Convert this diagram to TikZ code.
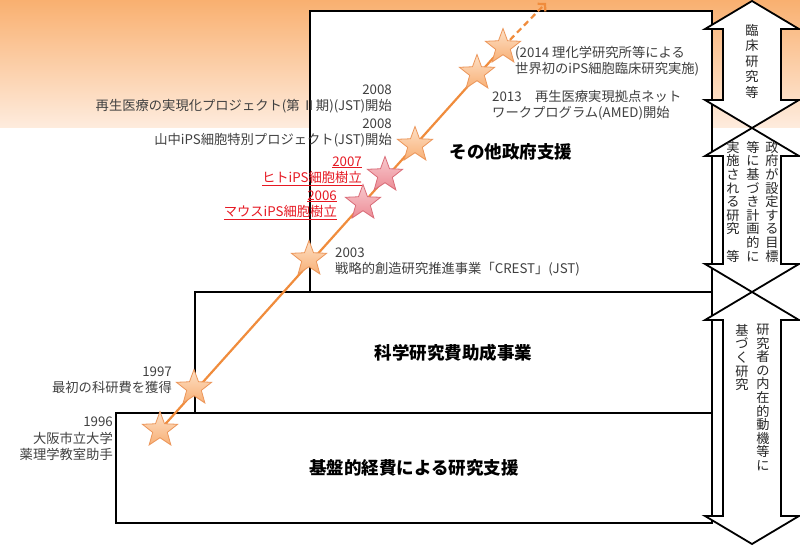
\documentclass[tikz,border=0pt]{standalone}
\usepackage{fontspec}
\setmainfont{Noto Sans CJK JP}
\usetikzlibrary{shapes.geometric, arrows.meta}

\definecolor{bgTop}{RGB}{249,176,112}
\definecolor{bgBottom}{RGB}{254,236,222}
\definecolor{lineOrange}{RGB}{240,140,60}
\definecolor{starTop}{RGB}{253,224,198}
\definecolor{starBottom}{RGB}{248,176,118}
\definecolor{starEdge}{RGB}{236,150,90}
\definecolor{pinkTop}{RGB}{248,202,206}
\definecolor{pinkBottom}{RGB}{236,140,150}
\definecolor{pinkEdge}{RGB}{218,108,120}
\definecolor{noteGray}{RGB}{64,64,64}
\definecolor{hotRed}{RGB}{230,25,35}

\begin{document}
\begin{tikzpicture}[x=1pt, y=-1pt,
    note/.style={inner sep=0pt, text=noteGray, font=\fontsize{13.3}{16.5}\selectfont},
    noteL/.style={note, align=left, anchor=west},
    noteR/.style={note, align=right, anchor=east},
    hot/.style={text=hotRed},
    panel/.style={draw, line width=1.8pt, fill=white, anchor=north west, inner sep=0pt,
        font=\bfseries\fontsize{17.5}{20}\selectfont},
    flow/.style={draw, line width=1.8pt, fill=white},
    vcol/.style={inner sep=0pt, anchor=north, align=center, text=black!85,
        font=\fontsize{13.2}{13.6}\selectfont},
    milestone/.style={star, star points=5, star point ratio=2.4, minimum size=37pt, inner sep=0pt,
        line width=0.8pt, draw=starEdge, top color=starTop, bottom color=starBottom},
    pinkstone/.style={milestone, draw=pinkEdge, top color=pinkTop, bottom color=pinkBottom}]

        \pgfmathsetmacro{\colX}{752}
        \pgfmathsetmacro{\headW}{47}
        \pgfmathsetmacro{\headH}{28}
        \pgfmathsetmacro{\shaftW}{29}

        \useasboundingbox (0,0) rectangle (800,548);
        \shade[top color=bgTop, bottom color=bgBottom] (0,0) rectangle (800,128);

        % funding blocks
        \node[panel, minimum width=402, minimum height=281] (boxGov) at (309,10) {その他政府支援};
        \node[panel, minimum width=517, minimum height=121] (boxKaken) at (194,291) {科学研究費助成事業};
        \node[panel, minimum width=596, minimum height=110] (boxBase) at (115,412) {基盤的経費による研究支援};

        % double arrows on the right
        \foreach \yTop/\yBot in {1/128, 128/292, 292/544} {
            \draw[flow] (\colX, \yTop) -- ++(\headW, \headH) -- ++(\shaftW-\headW, 0)
                -- (\colX+\shaftW, \yBot-\headH) -- ++(\headW-\shaftW, 0)
                -- (\colX, \yBot) -- ++(-\headW, -\headH) -- ++(\headW-\shaftW, 0)
                -- (\colX-\shaftW, \yTop+\headH) -- ++(\shaftW-\headW, 0) -- cycle;
        }

        \node[vcol, font=\fontsize{13.2}{15.5}\selectfont] (capClinic) at (752,24) {臨\\床\\研\\究\\等};
        \node[vcol] (capGoalA) at (772,141) {政\\府\\が\\設\\定\\す\\る\\目\\標};
        \node[vcol] (capGoalB) at (753,141) {等\\に\\基\\づ\\き\\計\\画\\的\\に};
        \node[vcol] (capGoalC) at (733,141) {実\\施\\さ\\れ\\る\\研\\究\\　\\等};
        \node[vcol] (capFreeA) at (763,324) {研\\究\\者\\の\\内\\在\\的\\動\\機\\等\\に};
        \node[vcol] (capFreeB) at (742,324) {基\\づ\\く\\研\\究};

        % timeline
        \coordinate (c1996) at (160,430);
        \coordinate (c1997) at (194,388);
        \coordinate (c2003) at (309,259);
        \coordinate (c2006) at (363,203);
        \coordinate (c2007) at (385,175);
        \coordinate (c2008) at (415,145);
        \coordinate (c2013) at (477,73);
        \coordinate (c2014) at (503,47);
        \coordinate (goal) at (546,3);

        \draw[line width=2.2pt, lineOrange] (c1996) -- (c2014);
        \draw[line width=2.2pt, lineOrange, dash pattern=on 6pt off 4pt,
            -{Straight Barb[length=5pt, width=11pt]}] (c2014) -- (goal);

        \node[milestone] (s1996) at (c1996) {};
        \node[milestone] (s1997) at (c1997) {};
        \node[milestone] (s2003) at (c2003) {};
        \node[pinkstone] (s2006) at (c2006) {};
        \node[pinkstone] (s2007) at (c2007) {};
        \node[milestone] (s2008) at (c2008) {};
        \node[milestone] (s2013) at (c2013) {};
        \node[milestone] (s2014) at (c2014) {};

        \node[noteR] (n1996) at (113,439) {1996\\大阪市立大学\\薬理学教室助手};
        \node[noteR] (n1997) at (172,380) {1997\\最初の科研費を獲得};
        \node[noteL] (n2003) at (335,262) {2003\\戦略的創造研究推進事業「CREST」(JST)};
        \node[noteR, hot] (n2006) at (337,205) {\underline{2006}\\\underline{マウスiPS細胞樹立}};
        \node[noteR, hot] (n2007) at (362,171) {\underline{2007}\\\underline{ヒトiPS細胞樹立}};
        \node[noteR] (n2008b) at (392,133) {2008\\山中iPS細胞特別プロジェクト(JST)開始};
        \node[noteR] (n2008a) at (392,99) {2008\\再生医療の実現化プロジェクト(第 Ⅱ期)(JST)開始};
        \node[noteL] (n2013) at (492,105) {2013　再生医療実現拠点ネット\\ワークプログラム(AMED)開始};
        \node[noteL] (n2014) at (515,61) {(2014 理化学研究所等による\\世界初のiPS細胞臨床研究実施)};
\end{tikzpicture}
\end{document}
